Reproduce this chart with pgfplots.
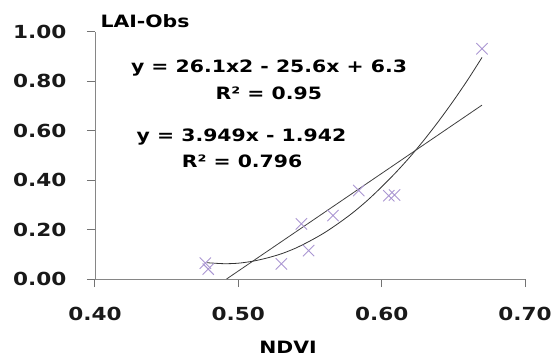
\documentclass[border=0pt]{standalone}
\usepackage{fontspec}
\usepackage{pgfplots}
\pgfplotsset{compat=1.18}
\newfontfamily\lbl{DejaVu Sans Bold}[FakeStretch=1.2]
\definecolor{axgray}{RGB}{134,134,134}
\definecolor{tickgray}{RGB}{115,115,115}
\definecolor{markc}{RGB}{170,150,210}
\begin{document}
\begin{tikzpicture}
\useasboundingbox (-95bp,-79bp) rectangle (461bp,279bp);
\begin{axis}[
  scale only axis,
  width=430bp, height=247bp,
  xmin=0.4, xmax=0.7, ymin=0, ymax=1,
  axis x line=bottom, axis y line=left,
  axis line style={-, draw=axgray, line width=0.8bp},
  xtick={0.4,0.5,0.6,0.7},
  ytick={0,0.2,0.4,0.6,0.8,1.0},
  xtick align=outside, ytick align=outside,
  xtick style={draw=tickgray, line width=1bp},
  ytick style={draw=tickgray, line width=1bp},
  major tick length=8bp,
  /pgf/number format/.cd, fixed, fixed zerofill, precision=2, assume math mode=true,
  /pgfplots/.cd,
  ticklabel style={font=\lbl\fontsize{18bp}{20bp}\selectfont, text=black!90},
  yticklabel style={xshift=-17bp},
  xticklabel style={yshift=-17bp},
  clip=false,
]
\addplot[only marks, mark=x, mark size=8bp, mark options={draw=markc, line width=0.9bp}]
coordinates {
(0.477,0.064) (0.479,0.040) (0.530,0.061) (0.549,0.115) (0.544,0.223)
(0.566,0.257) (0.584,0.358) (0.605,0.337) (0.609,0.340) (0.670,0.932)
};
% polynomial trendline
\addplot[smooth, draw=black!80, line width=0.8bp] coordinates {
(0.478,0.066) (0.49,0.062) (0.50,0.064) (0.51,0.072) (0.52,0.085)
(0.53,0.102) (0.54,0.125) (0.55,0.154) (0.56,0.187) (0.57,0.226)
(0.58,0.269) (0.59,0.318) (0.60,0.373) (0.61,0.432) (0.62,0.496)
(0.63,0.566) (0.64,0.641) (0.65,0.721) (0.66,0.806) (0.67,0.897)
};
% linear trendline
\addplot[draw=black!75, line width=0.8bp] coordinates {(0.4918,0) (0.670,0.704)};
\node[font=\lbl\fontsize{17bp}{20bp}\selectfont, anchor=base west] at (axis cs:0.4014,1.018) {LAI-Obs};
\node[font=\lbl\fontsize{17bp}{20bp}\selectfont, anchor=base] at (axis cs:0.5214,0.836) {y = 26.1x2 - 25.6x + 6.3};
\node[font=\lbl\fontsize{17bp}{20bp}\selectfont, anchor=base] at (axis cs:0.5213,0.726) {R² = 0.95};
\node[font=\lbl\fontsize{17bp}{20bp}\selectfont, anchor=base] at (axis cs:0.5022,0.557) {y = 3.949x - 1.942};
\node[font=\lbl\fontsize{17bp}{20bp}\selectfont, anchor=base] at (axis cs:0.5026,0.450) {R² = 0.796};
\node[font=\lbl\fontsize{17bp}{20bp}\selectfont, anchor=base, inner sep=0pt] at (axis cs:0.5347,-0.302) {NDVI};
\end{axis}
\end{tikzpicture}
\end{document}
